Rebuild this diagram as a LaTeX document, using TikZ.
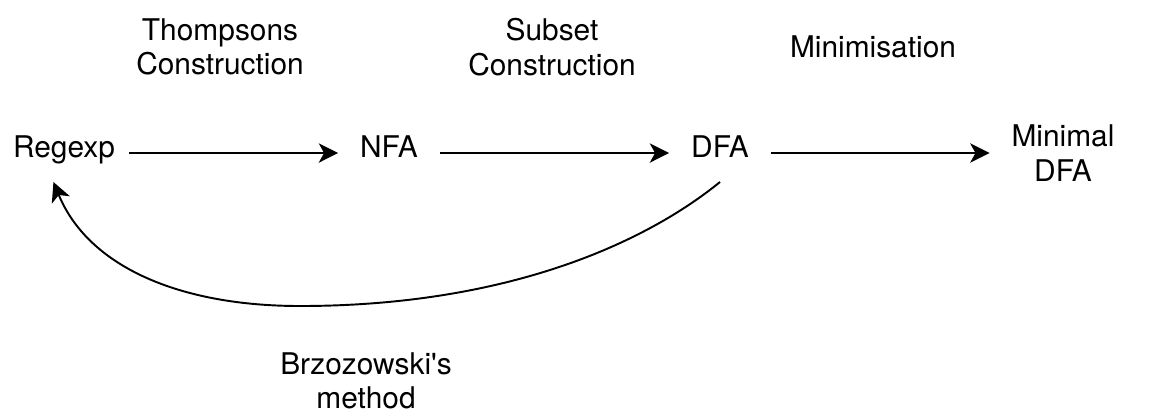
\documentclass[tikz,border=0pt]{standalone}
\usepackage{fontspec}
\setmainfont{TeX Gyre Heros}
\usetikzlibrary{arrows.meta, positioning}

\begin{document}
\begin{tikzpicture}[x=0.02cm, y=-0.02cm, font=\fontsize{17}{19.5}\selectfont, line width=1.1pt,
    >={Stealth[length=11pt, width=11pt, inset=3pt]}]
    \tikzset{
        state node/.style={inner xsep=12pt, inner ysep=11.3pt, text height=0.72em, text depth=0.21em},
        min node/.style={inner xsep=12pt, inner ysep=0pt, align=center},
        algo node/.style={inner sep=0pt, align=center}
      }
    \useasboundingbox (0,0) rectangle (1155,414);
    % automata
    \node[state node, inner xsep=7.5pt](regexp) at (64,153){Regexp};
    \node[state node](nfa) at (389,153){NFA};
    \node[state node](dfa) at (720,153){DFA};
    \node[min node](mindfa) at (1063,153){Minimal\\DFA};
    % algorithms
    \node[algo node](thompson) at (220,47){Thompsons\\Construction};
    \node[algo node](subset) at (552,47){Subset\\Construction};
    \node[algo node](minimise) at (873,47){Minimisation};
    \node[algo node](brzozowski) at (366,381){Brzozowski\textquotesingle s\\method};
    % transitions
    \draw[->] (regexp) -- (nfa);
    \draw[->] (nfa) -- (dfa);
    \draw[->] (dfa) -- (mindfa);
    \draw[->] (dfa.south) .. controls +(-80,65) and +(200,0) .. (300,306)
        .. controls +(-120,0) and +(35,85) .. (regexp.-110);
\end{tikzpicture}
\end{document}
